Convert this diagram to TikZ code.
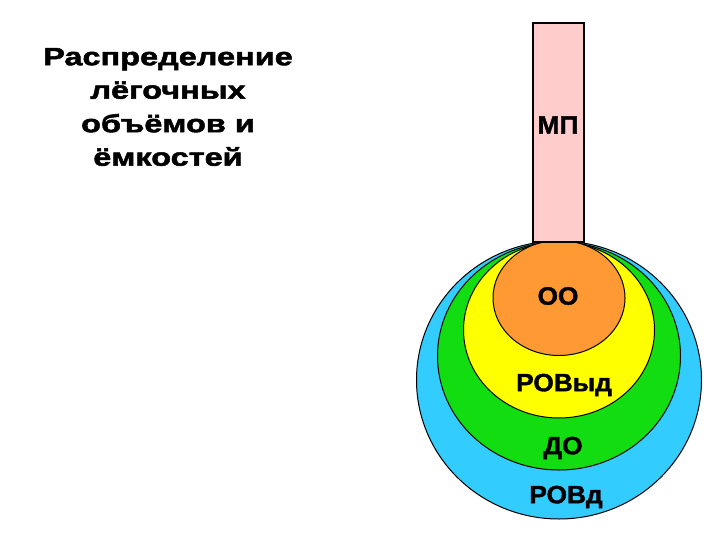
\documentclass[tikz,border=0pt]{standalone}
\usepackage{fontspec}
\setmainfont{Liberation Sans}
\newfontfamily\titlefont{Liberation Sans Bold}[FakeStretch=1.3, FakeBold=2]
\newfontfamily\labelfont{Liberation Sans Bold}[FakeStretch=1.05, FakeBold=1.5]
\usetikzlibrary{calc}
\usepackage{xcolor}
\definecolor{lungblue}{RGB}{51,204,255}
\definecolor{lunggreen}{RGB}{17,221,17}
\definecolor{lungyellow}{RGB}{255,255,0}
\definecolor{lungorange}{RGB}{255,153,51}
\definecolor{lungpink}{RGB}{255,204,204}
\tikzset{lbl/.style={font=\labelfont\fontsize{25}{30}\selectfont, inner sep=0pt}}

\begin{document}
\begin{tikzpicture}[x=1pt,y=-1pt]
			\useasboundingbox (0,0) rectangle (720,540);
			\def\cx{559};
			\draw[line width=1pt, fill=lungblue] (\cx,380) ellipse (142.5 and 139);
			\draw[line width=1pt, fill=lunggreen] (\cx,356) ellipse (121.5 and 114);
			\draw[line width=1pt, fill=lungyellow] (\cx,330) ellipse (95.5 and 88);
			\draw[line width=1pt, fill=lungorange] (\cx,298) ellipse (66 and 57.5);
			\draw[line width=1.5pt, fill=lungpink] (533,23) rectangle (584,242);
			\node[lbl] (mp) at (558,125) {МП};
			\node[lbl] (oo) at (558,296) {ОО};
			\node[lbl] (rovyd) at (564,385) {РОВыд};
			\node[lbl] (do) at (563,448) {ДО};
			\node[lbl] (rovd) at (566,497) {РОВд};
			\node[lbl, align=center, font=\titlefont\fontsize{25}{33.5}\selectfont] (title) at (168,107) {Распределение\\лёгочных\\объёмов и\\ёмкостей};
			\end{tikzpicture}
\end{document}
